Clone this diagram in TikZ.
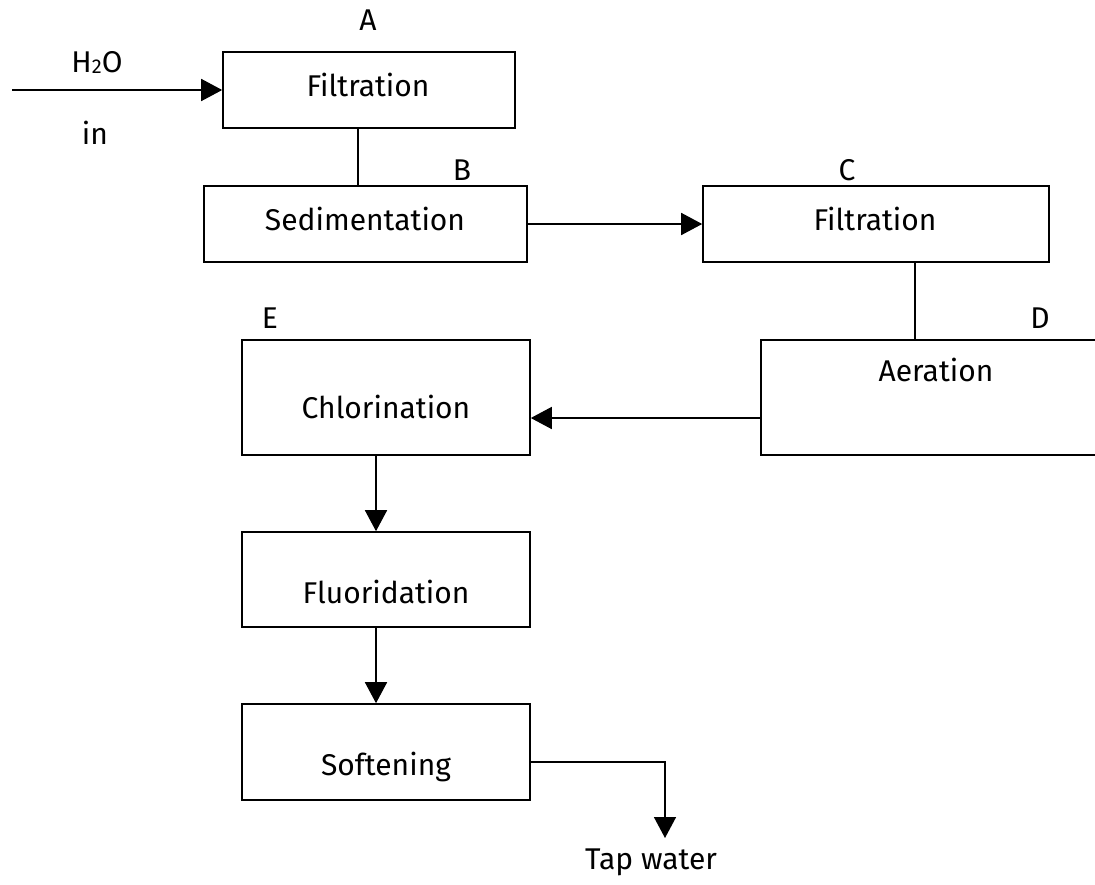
\documentclass[tikz,border=0pt]{standalone}
\usepackage{fontspec}
\setmainfont{Fira Sans}
\usetikzlibrary{arrows.meta}
\tikzset{
  stage/.style={draw,line width=1.6pt,minimum width=#1,inner sep=0pt},
  flow/.style={line width=1.6pt,-{Triangle[length=21pt,width=22pt]}},
  link/.style={line width=1.6pt},
  txt/.style={font=\fontsize{30}{34}\selectfont,inner sep=0pt}
}
\begin{document}
\begin{tikzpicture}[x=1pt,y=-1pt]
\useasboundingbox (0,0) rectangle (1095,884);
\clip (0,0) rectangle (1095,884);
% process boxes
\node[stage=292pt,minimum height=76pt] (a) at (369,90) {};
\node[stage=323pt,minimum height=76pt] (b) at (365.5,224) {};
\node[stage=346pt,minimum height=76pt] (c) at (876,224) {};
\node[stage=345pt,minimum height=115pt] (d) at (933.5,397.5) {};
\node[stage=288pt,minimum height=115pt] (e) at (386,397.5) {};
\node[stage=288pt,minimum height=95pt] (f) at (386,579.5) {};
\node[stage=288pt,minimum height=96pt] (s) at (386,752) {};
% texts in the boxes
\node[txt] (ta) at (368,85) {Filtration};
\node[txt] (tb) at (365,219) {Sedimentation};
\node[txt] (tc) at (875,219) {Filtration};
\node[txt] (td) at (936,370) {Aeration};
\node[txt] (te) at (386,407) {Chlorination};
\node[txt] (tf) at (386,592) {Fluoridation};
\node[txt] (ts) at (386,767) {Softening};
% letters
\node[txt] (la) at (368,20) {A};
\node[txt] (lb) at (462,170) {B};
\node[txt] (lc) at (847,170) {C};
\node[txt] (ld) at (1040,318) {D};
\node[txt] (le) at (270,318) {E};
\node[txt] (lh) at (97,62) {H\raisebox{-1pt}{\fontsize{20}{20}\selectfont 2}O};
\node[txt] (lin) at (95,133) {in};
\node[txt] (ltap) at (651,862) {Tap water};
% connectors
\coordinate (src) at (12,90);
\coordinate (tap) at (665,838);
\draw[flow] (src) -- (a.west);
\draw[link] ([xshift=-11pt]a.south) -- ([xshift=-11pt]a.south |- b.north);
\draw[flow] (b.east) -- (c.west);
\draw[link] ([xshift=39pt]c.south) -- ([xshift=39pt]c.south |- d.north);
\draw[flow] ([yshift=-20.5pt]d.west) -- ([yshift=-20.5pt]d.west -| e.east);
\draw[flow] ([xshift=-10pt]e.south) -- ([xshift=-10pt]e.south |- f.north);
\draw[flow] ([xshift=-10pt]f.south) -- ([xshift=-10pt]f.south |- s.north);
\draw[flow] ([yshift=-10pt]s.east) -| (tap);
\end{tikzpicture}
\end{document}
